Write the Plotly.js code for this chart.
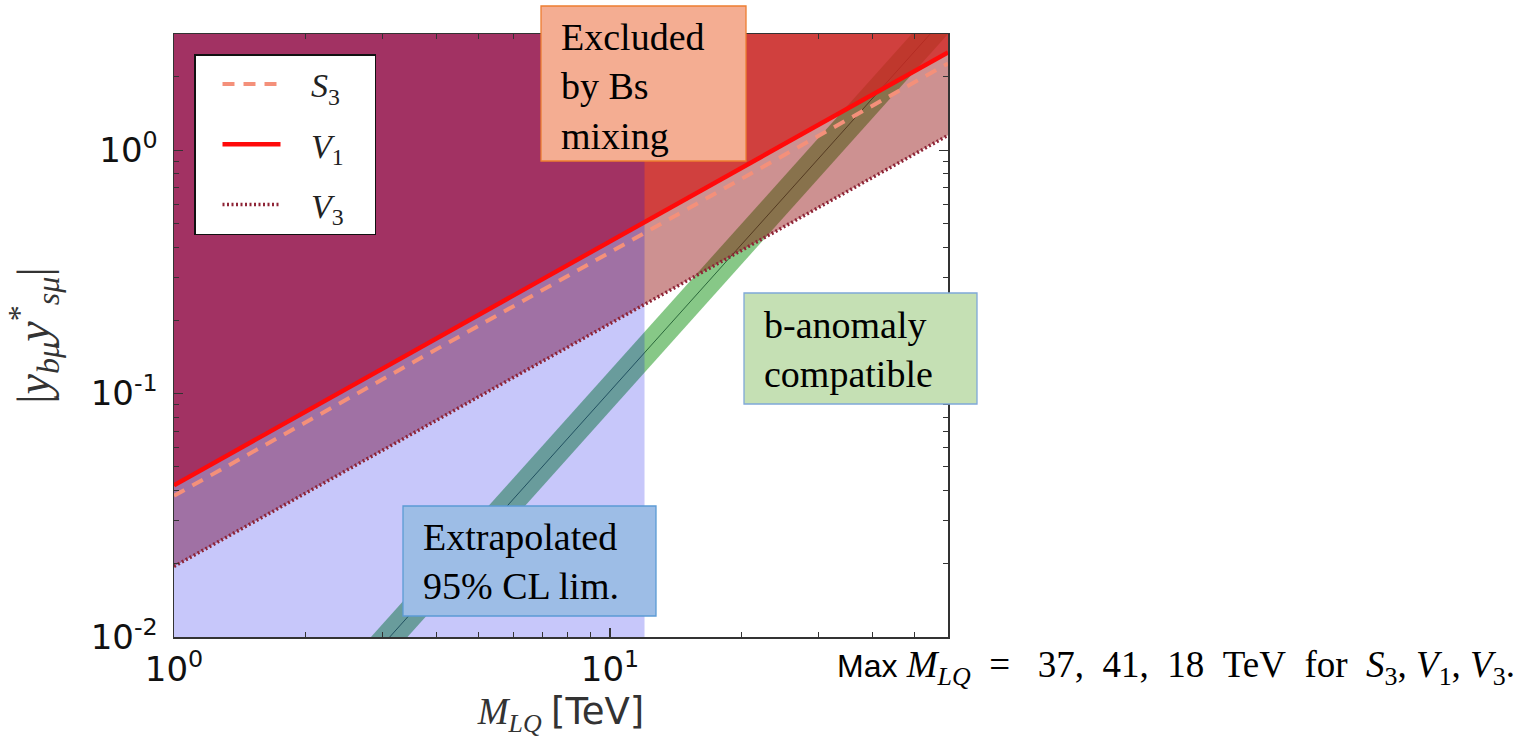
<!DOCTYPE html>
<html>
<head>
<meta charset="utf-8">
<script src="https://cdn.plot.ly/plotly-3.0.1.min.js"></script>
<style>html,body{margin:0;padding:0;background:#fff;}#chart{width:1538px;height:742px;}</style>
</head>
<body>
<div id="chart"></div>
<script>
// ---- data ----
const massTeV      = [1, 59.6];              // endpoints of the straight (log-log) limit lines
const limitS3      = [0.038, 2.27];
const limitV1      = [0.042, 2.52];
const limitV3      = [0.0195, 1.15];
const bandMassTeV  = [2, 60];                // b-anomaly compatible band (slope 2 in log-log)
const bandUpper    = [0.0050, 4.46];
const bandCentral  = [0.0041, 3.67];
const bandLower    = [0.0034, 3.04];
const extrapLimitTeV = 12;                   // extrapolated 95% CL region edge
const xAxisRange   = [1, 59.6];
const yAxisRange   = [0.01, 3];
const xTickVals    = [1, 10];
const xTickText    = ['10<sup>0</sup>', '10<sup>1</sup>'];
const yTickVals    = [0.01, 0.1, 1];
const yTickText    = ['10<sup>-2</sup>', '10<sup>-1</sup>', '10<sup>0</sup>'];
const xMinorTicks  = [2,3,4,5,6,7,8,9,20,30,40,50];
const yMinorTicks  = [0.02,0.03,0.04,0.05,0.06,0.07,0.08,0.09,0.2,0.3,0.4,0.5,0.6,0.7,0.8,0.9,2,3];
const NB = '\u00a0';
const legendNames  = [NB+NB+NB+'<i>S</i><sub>3</sub>'+NB+NB+NB, NB+NB+NB+'<i>V</i><sub>1</sub>'+NB+NB+NB, NB+NB+NB+'<i>V</i><sub>3</sub>'+NB+NB+NB];

// ---- plot-area geometry (pixels) ----
const W = 1538, H = 742;
const L = 174, R = 948, T = 34, B = 637;
const px = v => (v - L) / (R - L);
const py = v => (B - v) / (B - T);

const rev = a => a.slice().reverse();
const yTop = yAxisRange[1], yBot = yAxisRange[0];

const traces = [
  { // b-anomaly band
    x: bandMassTeV.concat(rev(bandMassTeV)), y: bandUpper.concat(rev(bandLower)),
    mode: 'lines', fill: 'toself', fillcolor: 'rgba(15,145,15,0.5)', line: {width: 0},
    showlegend: false, hoverinfo: 'skip'
  },
  { // band central line
    x: bandMassTeV, y: bandCentral, mode: 'lines',
    line: {color: 'rgba(20,80,40,0.8)', width: 1}, showlegend: false, hoverinfo: 'skip'
  },
  { // V3 excluded region
    x: [massTeV[0], massTeV[1], massTeV[1], massTeV[0]], y: [limitV3[0], limitV3[1], yTop, yTop],
    mode: 'lines', fill: 'toself', fillcolor: 'rgba(139,0,0,0.43)', line: {width: 0},
    showlegend: false, hoverinfo: 'skip'
  },
  { // V1 excluded region
    x: [massTeV[0], massTeV[1], massTeV[1], massTeV[0]], y: [limitV1[0], limitV1[1], yTop, yTop],
    mode: 'lines', fill: 'toself', fillcolor: 'rgba(209,38,35,0.76)', line: {width: 0},
    showlegend: false, hoverinfo: 'skip'
  },
  { // extrapolated 95% CL region
    x: [xAxisRange[0], extrapLimitTeV, extrapLimitTeV, xAxisRange[0]], y: [yBot, yBot, yTop, yTop],
    mode: 'lines', fill: 'toself', fillcolor: 'rgba(0,0,230,0.22)', line: {width: 0},
    showlegend: false, hoverinfo: 'skip'
  },
  { x: massTeV, y: limitS3, mode: 'lines', name: legendNames[0], legendgroup: 'a',
    line: {color: '#f4907a', width: 4, dash: '12px,9px'}, hoverinfo: 'skip' },
  { x: massTeV, y: limitV1, mode: 'lines', name: legendNames[1], legendgroup: 'b',
    line: {color: '#ff0a0a', width: 4.5}, hoverinfo: 'skip' },
  { x: massTeV, y: limitV3, mode: 'lines', name: legendNames[2], legendgroup: 'c',
    line: {color: '#8e2436', width: 3.5, dash: '2px,2.5px'}, hoverinfo: 'skip' }
];

const axisCommon = {
  type: 'log', showgrid: false, zeroline: false, showline: true, linecolor: '#333', linewidth: 1.5,
  mirror: 'allticks', ticks: 'inside', ticklen: 9, tickwidth: 1.2, tickcolor: '#333',
  tickfont: {family: 'DejaVu Sans', size: 34, color: '#111'}
};

const layout = {
  width: W, height: H,
  margin: {l: L, r: W - R, t: T, b: H - B},
  paper_bgcolor: '#fff', plot_bgcolor: '#fff',
  hovermode: false,
  xaxis: Object.assign({}, axisCommon, {
    range: [Math.log10(xAxisRange[0]), Math.log10(xAxisRange[1])],
    tickvals: xTickVals, ticktext: xTickText, ticklabelstandoff: 2,
    minor: {tickvals: xMinorTicks, ticks: 'inside', ticklen: 5, tickwidth: 1, tickcolor: '#333', showgrid: false},
    title: {text: '<i>M</i><sub><i>LQ</i></sub> <span style="font-family:DejaVu Sans">[TeV]</span>',
            standoff: 10, font: {family: 'Liberation Serif', size: 37, color: '#333'}}
  }),
  yaxis: Object.assign({}, axisCommon, {
    range: [Math.log10(yAxisRange[0]), Math.log10(yAxisRange[1])],
    tickvals: yTickVals, ticktext: yTickText, ticklabelstandoff: 8,
    minor: {tickvals: yMinorTicks, ticks: 'inside', ticklen: 5, tickwidth: 1, tickcolor: '#333', showgrid: false},
    title: {text: '|<i>y</i><sub><i>bμ</i></sub><i>y</i><sup>*</sup><sub><i>sμ</i></sub>|',
            standoff: 26, font: {family: 'Liberation Serif', size: 46, color: '#333'}}
  }),
  legend: {
    x: px(194), y: py(54), xanchor: 'left', yanchor: 'top',
    bgcolor: '#fff', bordercolor: '#111', borderwidth: 1.5,
    font: {family: 'Liberation Serif', size: 34, color: '#222'},
    tracegroupgap: 13, itemwidth: 58, indentation: 22
  },
  shapes: [
    {type: 'rect', xref: 'paper', yref: 'paper', x0: px(541), x1: px(746), y0: py(161), y1: py(6),
     fillcolor: '#f4ad92', line: {color: '#ed7d31', width: 1.3}, layer: 'above'},
    {type: 'rect', xref: 'paper', yref: 'paper', x0: px(744), x1: px(977), y0: py(404), y1: py(293),
     fillcolor: '#c5e0b4', line: {color: '#7fa8d8', width: 1.3}, layer: 'above'},
    {type: 'rect', xref: 'paper', yref: 'paper', x0: px(403), x1: px(656), y0: py(616), y1: py(506),
     fillcolor: '#9dbde6', line: {color: '#5b9bd5', width: 1.3}, layer: 'above'}
  ],
  annotations: [
    {xref: 'paper', yref: 'paper', x: px(559), y: py(86), xanchor: 'left', yanchor: 'middle', align: 'left',
     showarrow: false, text: 'Excluded<br>by Bs<br>mixing',
     font: {family: 'Liberation Serif', size: 38, color: '#000'}},
    {xref: 'paper', yref: 'paper', x: px(762), y: py(349), xanchor: 'left', yanchor: 'middle', align: 'left',
     showarrow: false, text: 'b-anomaly<br>compatible',
     font: {family: 'Liberation Serif', size: 38, color: '#000'}},
    {xref: 'paper', yref: 'paper', x: px(421), y: py(561), xanchor: 'left', yanchor: 'middle', align: 'left',
     showarrow: false, text: 'Extrapolated<br>95% CL lim.',
     font: {family: 'Liberation Serif', size: 38, color: '#000'}},
    {xref: 'paper', yref: 'paper', x: px(835), y: py(667), xanchor: 'left', yanchor: 'middle', align: 'left',
     showarrow: false,
     text: '<span style="font-family:Liberation Sans;font-size:32px">Max</span> <i>M</i><sub><i>LQ</i></sub>'+NB+NB+'='+NB+NB+NB+'37,'+NB+NB+'41,'+NB+NB+'18'+NB+NB+'TeV'+NB+NB+'for'+NB+NB+'<i>S</i><sub>3</sub>,'+NB+'<i>V</i><sub>1</sub>,'+NB+'<i>V</i><sub>3</sub>.',
     font: {family: 'Liberation Serif', size: 37, color: '#000'}}
  ]
};

Plotly.newPlot('chart', traces, layout, {displayModeBar: false, staticPlot: true});
</script>
</body>
</html>
